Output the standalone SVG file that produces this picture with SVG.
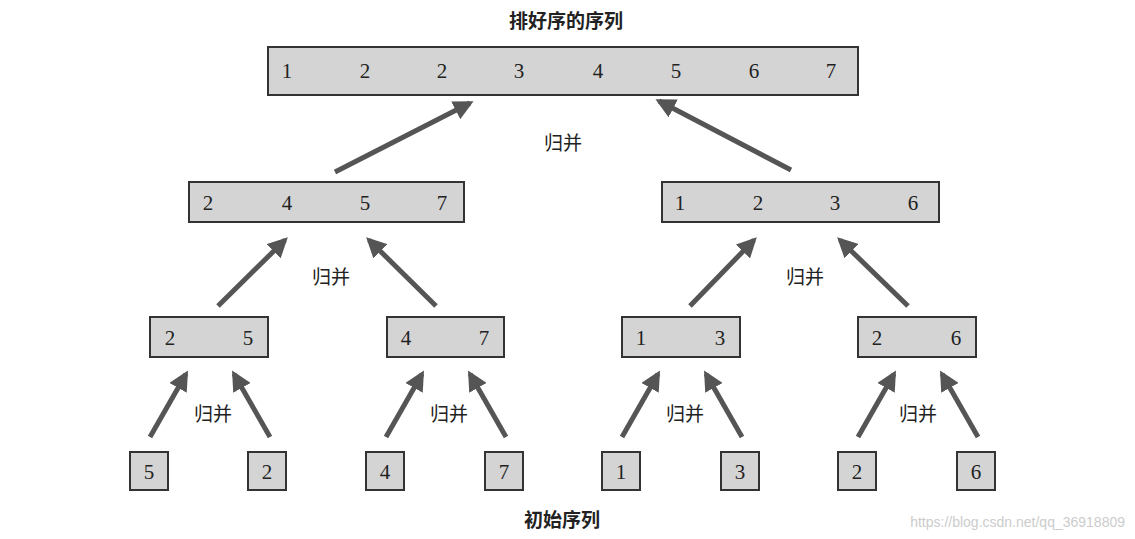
<svg xmlns="http://www.w3.org/2000/svg" width="1135" height="539" viewBox="0 0 1135 539">
<style>
.b{fill:#d4d4d4;stroke:#333;stroke-width:2}
.n{font-family:"Liberation Serif",serif;font-size:21px;fill:#222;text-anchor:middle}
.l{font-family:"Liberation Sans","Noto Sans CJK SC",sans-serif;font-size:19px;fill:#222;text-anchor:middle}
.a{stroke:#555;stroke-width:5;fill:none;marker-end:url(#h)}
</style>
<defs><marker id="h" viewBox="0 0 10 10" refX="8" refY="5" markerWidth="4" markerHeight="4" orient="auto" markerUnits="strokeWidth"><path d="M0,0L10,5L0,10z" fill="#555"/></marker></defs>
<rect width="1135" height="539" fill="#fff"/>
<text class="l" x="566" y="28" font-weight="bold">排好序的序列</text>
<g id="top"><rect class="b" x="268" y="47" width="590" height="48"/>
<text class="n" y="78"><tspan x="287">1</tspan><tspan x="365">2</tspan><tspan x="442">2</tspan><tspan x="519">3</tspan><tspan x="598">4</tspan><tspan x="676">5</tspan><tspan x="754">6</tspan><tspan x="831">7</tspan></text></g>
<g id="m1"><rect class="b" x="189" y="182" width="275" height="40"/><text class="n" y="210"><tspan x="208">2</tspan><tspan x="287">4</tspan><tspan x="365">5</tspan><tspan x="442">7</tspan></text></g>
<g id="m2"><rect class="b" x="662" y="182" width="277" height="40"/><text class="n" y="210"><tspan x="680">1</tspan><tspan x="758">2</tspan><tspan x="835">3</tspan><tspan x="913">6</tspan></text></g>
<g id="p1"><rect class="b" x="150" y="317" width="118" height="40"/><text class="n" y="345"><tspan x="170">2</tspan><tspan x="248">5</tspan></text></g>
<g id="p2"><rect class="b" x="387" y="317" width="117" height="40"/><text class="n" y="345"><tspan x="406">4</tspan><tspan x="484">7</tspan></text></g>
<g id="p3"><rect class="b" x="622" y="317" width="118" height="40"/><text class="n" y="345"><tspan x="641">1</tspan><tspan x="720">3</tspan></text></g>
<g id="p4"><rect class="b" x="858" y="317" width="118" height="40"/><text class="n" y="345"><tspan x="877">2</tspan><tspan x="956">6</tspan></text></g>
<g id="leaves">
<g id="f1"><rect class="b" x="130" y="452" width="38" height="38"/><text class="n" x="149" y="479">5</text></g>
<g id="f2"><rect class="b" x="248" y="452" width="38" height="38"/><text class="n" x="267" y="479">2</text></g>
<g id="f3"><rect class="b" x="366" y="452" width="38" height="38"/><text class="n" x="385" y="479">4</text></g>
<g id="f4"><rect class="b" x="485" y="452" width="38" height="38"/><text class="n" x="504" y="479">7</text></g>
<g id="f5"><rect class="b" x="602" y="452" width="38" height="38"/><text class="n" x="621" y="479">1</text></g>
<g id="f6"><rect class="b" x="721" y="452" width="38" height="38"/><text class="n" x="740" y="479">3</text></g>
<g id="f7"><rect class="b" x="838" y="452" width="38" height="38"/><text class="n" x="857" y="479">2</text></g>
<g id="f8"><rect class="b" x="957" y="452" width="38" height="38"/><text class="n" x="976" y="479">6</text></g>
</g>
<g id="connectors">
<line class="a" x1="150" y1="437" x2="186" y2="374"/><line class="a" x1="270" y1="437" x2="234" y2="374"/>
<line class="a" x1="386" y1="437" x2="422" y2="374"/><line class="a" x1="506" y1="437" x2="470" y2="374"/>
<line class="a" x1="622" y1="437" x2="658" y2="374"/><line class="a" x1="742" y1="437" x2="706" y2="374"/>
<line class="a" x1="858" y1="437" x2="894" y2="374"/><line class="a" x1="978" y1="437" x2="942" y2="374"/>
<line class="a" x1="218" y1="306" x2="285" y2="240"/><line class="a" x1="436" y1="306" x2="369" y2="240"/>
<line class="a" x1="690" y1="306" x2="754" y2="240"/><line class="a" x1="908" y1="306" x2="840" y2="240"/>
<line class="a" x1="335" y1="172" x2="470" y2="103"/><line class="a" x1="791" y1="170" x2="659" y2="101"/>
</g>
<g class="l">
<text class="l" x="563" y="150">归并</text>
<text class="l" x="331" y="284">归并</text><text class="l" x="805" y="284">归并</text>
<text class="l" x="213" y="421">归并</text><text class="l" x="449" y="421">归并</text><text class="l" x="685" y="421">归并</text><text class="l" x="918" y="421">归并</text>
</g>
<text class="l" x="562" y="527" font-weight="bold">初始序列</text>
<text x="1125" y="527" font-family="Liberation Sans,sans-serif" font-size="14" fill="#ccc" text-anchor="end">https://blog.csdn.net/qq_36918809</text>
</svg>
